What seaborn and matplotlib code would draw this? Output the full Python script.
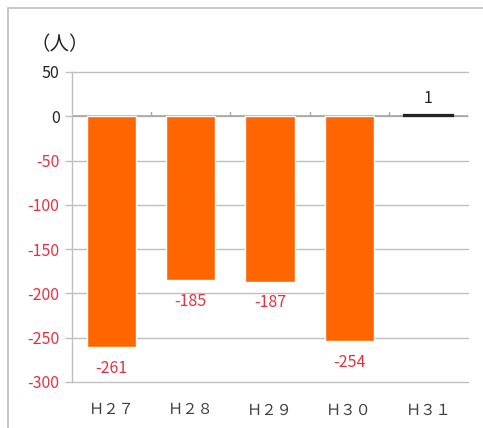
import matplotlib
matplotlib.use("Agg")
import matplotlib.pyplot as plt
from matplotlib.lines import Line2D
import seaborn as sns
import pandas as pd
import numpy as np

# Data: yearly change in population (persons)
years = ["Ｈ２７", "Ｈ２８", "Ｈ２９", "Ｈ３０", "Ｈ３１"]
change = [-261, -185, -187, -254, 1]
y_ticks = [50, 0, -50, -100, -150, -200, -250, -300]

df = pd.DataFrame({"year": years, "change": change})

sns.set_theme(style="white")
plt.rcParams["font.family"] = ["Noto Sans CJK JP", "DejaVu Sans"]
plt.rcParams["hatch.linewidth"] = 1.2

fig = plt.figure(figsize=(4.83, 4.28), dpi=100)
ax = fig.add_axes([72 / 483, 1 - 382 / 428, (468 - 72) / 483, (382 - 72) / 428])

orange = "#FF6600"
red = "#E8303F"
sns.barplot(data=df, x="year", y="change", ax=ax, color=orange,
            width=0.62, saturation=1, zorder=3)

# The last (positive) bar is drawn hatched
last = ax.patches[len(years) - 1]
last.set_facecolor("white")
last.set_edgecolor("#222222")
last.set_linewidth(1.6)
last.set_hatch("/////")

ax.set_ylim(-300, 50)
ax.set_xlim(-0.5, len(years) - 0.5)
ax.set_yticks(y_ticks)
ax.set_yticklabels([str(v) for v in y_ticks])
for lab, v in zip(ax.get_yticklabels(), y_ticks):
    lab.set_color(red if v < 0 else "#222222")
    lab.set_fontsize(11.5)

ax.set_xlabel("")
ax.set_ylabel("")
ax.grid(axis="y", color="#BFBFBF", linewidth=1.0, zorder=0)
for gl in ax.yaxis.get_gridlines():
    gl.set_clip_on(False)
ax.set_axisbelow(True)
for side in ["top", "right", "bottom"]:
    ax.spines[side].set_visible(False)
ax.spines["left"].set_color("#BFBFBF")
ax.spines["left"].set_linewidth(1.0)

ax.tick_params(axis="y", length=5, color="#BFBFBF", width=1.0, pad=4, left=True)
ax.tick_params(axis="x", length=0, pad=14, labelsize=11, labelcolor="#404040")

# Zero line with small category-boundary ticks
ax.axhline(0, color="#A6A6A6", linewidth=1.2, zorder=2)
for b in np.arange(0.5, len(years), 1.0):
    ax.plot([b, b], [0, 5], color="#A6A6A6", linewidth=1.0, zorder=2)

# Value labels
for i, v in enumerate(change):
    if v < 0:
        ax.text(i, v - 14, str(v), ha="center", va="top", color=red, fontsize=11.5)
    else:
        ax.text(i, v + 10, str(v), ha="center", va="bottom", color="#222222", fontsize=11.5)

fig.text(30 / 483, 1 - 45 / 428, "（人）", ha="left", va="center", fontsize=14, color="#222222")

# Outer frame
fig.add_artist(Line2D([8 / 483, 1.0], [1 - 8 / 428] * 2, color="#BFBFBF", linewidth=1.2))
fig.add_artist(Line2D([8 / 483] * 2, [0.0, 1 - 8 / 428], color="#BFBFBF", linewidth=1.2))

fig.savefig("out.png", dpi=100)
